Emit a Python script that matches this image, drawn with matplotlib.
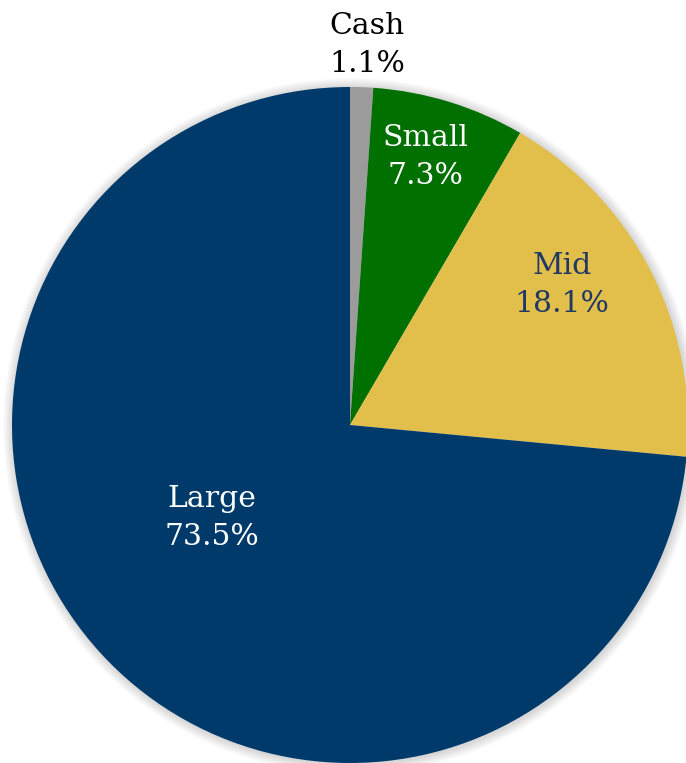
import matplotlib.pyplot as plt
from matplotlib.patches import Circle

labels = ["Cash", "Small", "Mid", "Large"]
shares = [1.1, 7.3, 18.1, 73.5]
colors = ["#9b9b9b", "#007000", "#e2bf4a", "#003a6b"]
text_colors = ["black", "white", "#1f3864", "white"]

# label anchor points (pixels, origin bottom-left)
label_xy = [(367, 718), (425, 606), (562, 478), (212, 245)]

W, H = 686, 763
cx, cy, R = 350, 338, 338

fig = plt.figure(figsize=(W / 100, H / 100), dpi=100)
ax = fig.add_axes([0, 0, 1, 1])

# soft glow behind the pie
for k in range(10, 0, -1):
    ax.add_patch(Circle((cx + 1, cy - 1), R + k, color="black",
                        alpha=0.016, lw=0, zorder=0))

ax.pie(shares, colors=colors, startangle=90, counterclock=False,
       center=(cx, cy), radius=R, frame=True,
       wedgeprops=dict(linewidth=0, zorder=1))
ax.set_xlim(0, W)
ax.set_ylim(0, H)
ax.set_aspect("equal")
ax.axis("off")

for name, val, (x, y), tc in zip(labels, shares, label_xy, text_colors):
    ax.text(x, y, f"{name}\n{val:.1f}%", ha="center", va="center",
            color=tc, fontsize=21.5, family="DejaVu Serif", linespacing=1.45,
            zorder=3)

fig.savefig("out.png", dpi=100)
